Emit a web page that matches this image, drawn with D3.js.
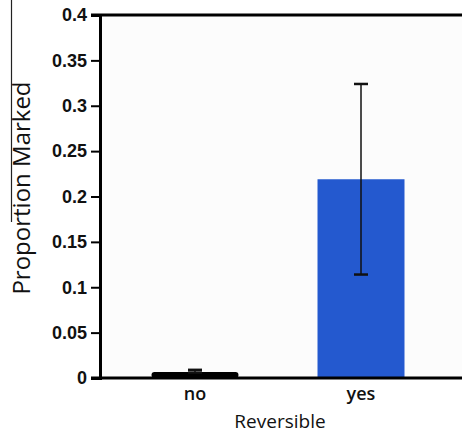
<!DOCTYPE html>
<html>
<head>
<meta charset="utf-8">
<script src="https://cdn.jsdelivr.net/npm/d3@7"></script>
<style>
  body { margin: 0; background: #fff; }
  svg { display: block; font-family: "Open Sans", "DejaVu Sans", sans-serif; }
</style>
</head>
<body>
<div id="chart"></div>
<script>
const categories= ["no", "yes"];
const means= [0.0065, 0.219];
const errLow= [0.006, 0.114];
const errHigh= [0.009, 0.324];
const yTicks= [0, 0.05, 0.1, 0.15, 0.2, 0.25, 0.3, 0.35, 0.4];
const barColors= ["#000000", "#2459cf"];

const dims= {
    width: 462,
    height: 435,
    margin: { top: 15, right: 0, bottom: 57, left: 100 },
}

const svg= d3.select("#chart")
    .append("svg")
    .attr("width", dims.width)
    .attr("height", dims.height)

const x= d3.scaleBand()
    .domain(categories)
    .range([110, 446])
    .paddingInner(0.476)
    .paddingOuter(0.25)

const y= d3.scaleLinear()
    .domain([0, 0.4])
    .range([dims.height - dims.margin.bottom, dims.margin.top])

// faint plot background
svg.append("rect")
    .attr("x", dims.margin.left)
    .attr("y", y(0.4))
    .attr("width", dims.width - dims.margin.left)
    .attr("height", y(0) - y(0.4))
    .attr("fill", "#fcfcfc")

// bars
svg.selectAll(".bar")
    .data(categories)
    .join("rect")
    .attr("class", "bar")
    .attr("x", d => x(d))
    .attr("y", (d, i) => y(means[i]))
    .attr("width", x.bandwidth())
    .attr("height", (d, i) => y(0) - y(means[i]))
    .attr("rx", (d, i) => i === 0 ? 3 : 0)
    .attr("fill", (d, i) => barColors[i])

// error bars
const errG= svg.append("g")
    .attr("stroke", "#111")
    .attr("stroke-width", 1.5)

categories.forEach((c, i) => {
    const cx= x(c) + x.bandwidth() / 2
    errG.append("line")
        .attr("x1", cx).attr("x2", cx)
        .attr("y1", y(errLow[i])).attr("y2", y(errHigh[i]))
    errG.append("line")
        .attr("x1", cx - 7).attr("x2", cx + 7)
        .attr("y1", y(errHigh[i])).attr("y2", y(errHigh[i]))
        .attr("stroke-width", 2.5)
    errG.append("line")
        .attr("x1", cx - 7).attr("x2", cx + 7)
        .attr("y1", y(errLow[i])).attr("y2", y(errLow[i]))
        .attr("stroke-width", 2.5)
})

// y axis
const yAxis= svg.append("g")
    .attr("transform", `translate(${dims.margin.left},0)`)
    .call(d3.axisLeft(y).tickValues(yTicks).tickFormat(d => d3.format("")(+d.toFixed(2))).tickSize(9).tickPadding(4))

yAxis.select(".domain").attr("stroke", "#000").attr("stroke-width", 3)
yAxis.selectAll(".tick line").attr("stroke", "#000").attr("stroke-width", 2)
yAxis.selectAll(".tick text")
    .attr("fill", "#111")
    .attr("font-size", 18)
    .attr("font-weight", 600)

// top and bottom frame lines
svg.append("line")
    .attr("x1", dims.margin.left - 9).attr("x2", dims.width)
    .attr("y1", y(0.4)).attr("y2", y(0.4))
    .attr("stroke", "#000").attr("stroke-width", 3)

svg.append("line")
    .attr("x1", dims.margin.left - 9).attr("x2", dims.width)
    .attr("y1", y(0)).attr("y2", y(0))
    .attr("stroke", "#000").attr("stroke-width", 3)

// category labels
svg.selectAll(".cat")
    .data(categories)
    .join("text")
    .attr("class", "cat")
    .attr("x", d => x(d) + x.bandwidth() / 2)
    .attr("y", y(0) + 22)
    .attr("text-anchor", "middle")
    .attr("font-size", 18)
    .attr("font-weight", 600)
    .attr("fill", "#111")
    .text(d => d)

svg.append("text")
    .attr("x", 280)
    .attr("y", 428)
    .attr("text-anchor", "middle")
    .attr("font-size", 19)
    .attr("font-weight", 500)
    .attr("fill", "#111")
    .text("Reversible")

svg.append("text")
    .attr("transform", "translate(30,188) rotate(-90)")
    .attr("text-anchor", "middle")
    .attr("font-size", 24)
    .attr("font-weight", 500)
    .attr("fill", "#111")
    .text("Proportion Marked")

// thin line left of the title, as in the source figure
svg.append("line")
    .attr("x1", 11.5).attr("x2", 11.5)
    .attr("y1", 0).attr("y2", 222)
    .attr("stroke", "#222").attr("stroke-width", 1.2)
</script>
</body>
</html>
